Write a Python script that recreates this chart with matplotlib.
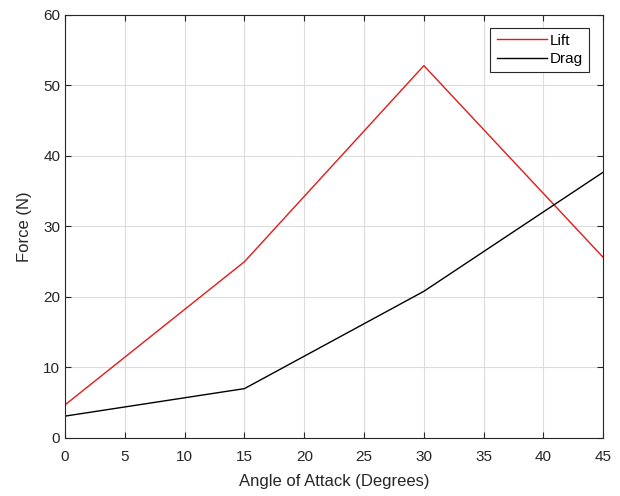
import matplotlib
matplotlib.use("Agg")
import matplotlib.pyplot as plt

angle = [0, 15, 30, 45]
lift = [4.7, 25.0, 52.8, 25.6]
drag = [3.1, 7.0, 20.8, 37.7]

x_ticks = list(range(0, 50, 5))
y_ticks = list(range(0, 70, 10))

plt.rcParams["font.family"] = ["Liberation Sans", "DejaVu Sans"]

fig = plt.figure(figsize=(6.2, 4.96), dpi=100)
ax = fig.add_axes([0.105, 0.117, 0.868, 0.853])

ax.plot(angle, lift, color="#e01a1a", linewidth=1.0, label="Lift")
ax.plot(angle, drag, color="black", linewidth=1.0, label="Drag")

ax.set_xlim(0, 45)
ax.set_ylim(0, 60)
ax.set_xticks(x_ticks)
ax.set_yticks(y_ticks)
ax.grid(True, color="#dcdcdc", linewidth=0.8)
ax.set_axisbelow(True)
ax.tick_params(direction="in", length=4, width=0.8, colors="#262626",
               labelsize=11, top=True, right=True, labeltop=False, labelright=False)
ax.tick_params(axis="x", pad=9)
for spine in ax.spines.values():
    spine.set_color("#262626")
    spine.set_linewidth(0.8)

ax.set_xlabel("Angle of Attack (Degrees)", fontsize=12, color="#262626", labelpad=7)
ax.set_ylabel("Force (N)", fontsize=12, color="#262626", labelpad=8)

leg = ax.legend(loc="upper right", fontsize=11, fancybox=False, framealpha=1,
                edgecolor="#262626", handlelength=3.3, borderpad=0.4,
                labelspacing=0.3, handletextpad=0.2, borderaxespad=0,
                bbox_to_anchor=(0.974, 0.97))
leg.get_frame().set_linewidth(0.8)
leg._legend_box.sep = 2

fig.savefig("out.png", dpi=100)
